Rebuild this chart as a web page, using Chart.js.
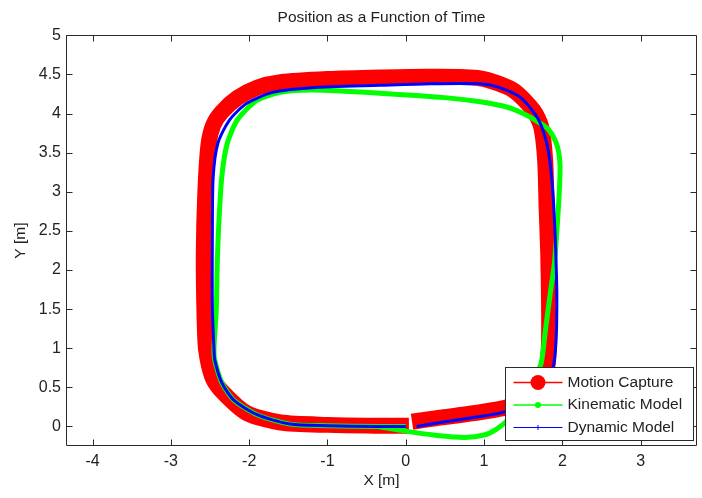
<!DOCTYPE html>
<html>
<head>
<meta charset="utf-8">
<style>
html,body{margin:0;padding:0;background:#fff;}
#wrap{width:702px;height:498px;}
</style>
<script src="https://cdn.jsdelivr.net/npm/chart.js@4.4.1/dist/chart.umd.min.js"></script>
</head>
<body>
<div id="wrap"><canvas id="c" width="702" height="498"></canvas></div>
<script>
// ---- tick values / labels ----
const xTicks = [-4, -3, -2, -1, 0, 1, 2, 3];
const xTickLabels = ['-4', '-3', '-2', '-1', '0', '1', '2', '3'];
const yTicks = [0, 0.5, 1, 1.5, 2, 2.5, 3, 3.5, 4, 4.5, 5];
const yTickLabels = ['0', '0.5', '1', '1.5', '2', '2.5', '3', '3.5', '4', '4.5', '5'];
const legendLabels = ['Motion Capture', 'Kinematic Model', 'Dynamic Model'];

// ---- Motion Capture (red) ----
const mocapX = [0.08, 0.35, 0.8, 1.27, 1.55, 1.72, 1.81, 1.83, 1.83, 1.82, 1.80, 1.78, 1.73, 1.63, 1.37, 0.95, 0.3, -0.33, -1.0, -1.6, -1.9, -2.15, -2.35, -2.46, -2.52, -2.56, -2.58, -2.57, -2.55, -2.47, -2.33, -2.03, -1.6, -1.0, -0.4, 0.04];
const mocapY = [0.06, 0.10, 0.16, 0.24, 0.34, 0.52, 0.78, 1.1, 1.6, 2.2, 2.77, 3.41, 3.83, 4.04, 4.3, 4.45, 4.47, 4.46, 4.44, 4.40, 4.33, 4.2, 4.02, 3.85, 3.6, 3.0, 2.2, 1.4, 0.98, 0.63, 0.43, 0.17, 0.05, 0.02, 0.01, 0.01];

// ---- Kinematic Model (green) ----
const kinX = [-0.35, 0.0, 0.4, 0.75, 1.0, 1.15, 1.3, 1.5, 1.63, 1.73, 1.78, 1.84, 1.9, 1.93, 1.96, 1.97, 1.93, 1.82, 1.68, 1.5, 1.3, 0.95, 0.53, -0.33, -1.19, -1.6, -1.9, -2.15, -2.28, -2.35, -2.39, -2.41, -2.42, -2.45, -2.44, -2.35, -2.2, -1.9, -1.48, -1.0, -0.35, 0.0];
const kinY = [0.0, -0.06, -0.115, -0.14, -0.11, -0.04, 0.08, 0.35, 0.6, 0.81, 1.2, 1.66, 2.1, 2.5, 2.98, 3.35, 3.6, 3.8, 3.9, 4.0, 4.08, 4.15, 4.2, 4.26, 4.3, 4.27, 4.17, 3.92, 3.62, 3.19, 2.55, 2.0, 1.5, 1.0, 0.85, 0.56, 0.34, 0.15, 0.03, 0.01, 0.0, 0.0];

// ---- Dynamic Model (blue) ----
const dynX = [0.14, 0.5, 0.9, 1.2, 1.5, 1.75, 1.88, 1.92, 1.93, 1.92, 1.91, 1.88, 1.84, 1.78, 1.68, 1.46, 1.17, 0.95, 0.31, -0.33, -1.19, -1.7, -2.03, -2.25, -2.4, -2.46, -2.47, -2.47, -2.45, -2.44, -2.35, -2.2, -1.9, -1.48, -1.0, -0.35, 0.0];
const dynY = [0.0, 0.06, 0.12, 0.17, 0.28, 0.48, 0.75, 1.1, 1.66, 2.1, 2.4, 2.98, 3.4, 3.7, 3.95, 4.21, 4.34, 4.38, 4.38, 4.36, 4.33, 4.27, 4.13, 3.92, 3.62, 3.19, 2.5, 1.5, 1.0, 0.85, 0.56, 0.34, 0.15, 0.03, 0.01, 0.0, 0.0];

const toPts = (xs, ys) => xs.map((x, i) => ({x: x, y: ys[i]}));

const FONT = '"Liberation Sans", Arial, sans-serif';
const TXT = '#222222';
const AXC = '#2a2a2a';

const framePlugin = {
  id: 'frame',
  afterDraw(chart) {
    const {ctx, chartArea: a, scales: {x, y}} = chart;
    ctx.save();
    ctx.strokeStyle = AXC;
    ctx.lineWidth = 1;
    const L = Math.round(a.left) + 0.5, R = Math.round(a.right) - 0.5;
    const T = Math.round(a.top) + 0.5, B = Math.round(a.bottom) - 0.5;
    ctx.beginPath();
    ctx.rect(L, T, R - L, B - T);
    ctx.stroke();
    const tl = 6;
    ctx.beginPath();
    x.ticks.forEach(t => {
      const p = Math.round(x.getPixelForValue(t.value)) + 0.5;
      ctx.moveTo(p, B); ctx.lineTo(p, B - tl);
      ctx.moveTo(p, T); ctx.lineTo(p, T + tl);
    });
    y.ticks.forEach(t => {
      const p = Math.round(y.getPixelForValue(t.value)) + 0.5;
      ctx.moveTo(L, p); ctx.lineTo(L + tl, p);
      ctx.moveTo(R, p); ctx.lineTo(R - tl, p);
    });
    ctx.stroke();

    // legend box
    const bw = 188, bh = 73;
    const bx = Math.round(a.right) - 4 - bw + 0.5;
    const by = Math.round(a.bottom) - 6 - bh + 0.5;
    ctx.fillStyle = '#ffffff';
    ctx.fillRect(bx, by, bw, bh);
    ctx.strokeStyle = AXC;
    ctx.strokeRect(bx, by, bw, bh);
    const rows = [by + 15, by + 37.5, by + 60];
    const lx0 = bx + 8, lx1 = bx + 57, mx = bx + 32.5;
    const ds = chart.data.datasets;
    ctx.font = '15.5px ' + FONT;
    ctx.textBaseline = 'middle';
    ctx.textAlign = 'left';
    rows.forEach((ry, i) => {
      const col = ds[i].borderColor;
      ctx.strokeStyle = col;
      ctx.fillStyle = col;
      ctx.lineWidth = i === 2 ? 1 : 1.5;
      ctx.beginPath();
      ctx.moveTo(lx0, ry); ctx.lineTo(lx1, ry);
      ctx.stroke();
      if (i === 0) {
        ctx.beginPath(); ctx.arc(mx, ry, 7.5, 0, Math.PI * 2); ctx.fill();
      } else if (i === 1) {
        ctx.beginPath(); ctx.arc(mx, ry, 3, 0, Math.PI * 2); ctx.fill();
      } else {
        ctx.beginPath(); ctx.moveTo(mx, ry - 2.5); ctx.lineTo(mx, ry + 2.5); ctx.stroke();
      }
      ctx.fillStyle = TXT;
      ctx.fillText(legendLabels[i], bx + 62, ry);
    });
    ctx.restore();
  }
};

new Chart(document.getElementById('c'), {
  type: 'scatter',
  data: {
    datasets: [
      {label: legendLabels[0], data: toPts(mocapX, mocapY), borderColor: '#ff0000', backgroundColor: '#ff0000',
       borderWidth: 16, showLine: true, pointRadius: 0, tension: 0.25, borderJoinStyle: 'round', borderCapStyle: 'butt', order: 3},
      {label: legendLabels[1], data: toPts(kinX, kinY), borderColor: '#00ff00', backgroundColor: '#00ff00',
       borderWidth: 5, showLine: true, pointRadius: 0, tension: 0.25, borderJoinStyle: 'round', order: 2},
      {label: legendLabels[2], data: toPts(dynX, dynY), borderColor: '#0000ff', backgroundColor: '#0000ff',
       borderWidth: 3, showLine: true, pointRadius: 0, tension: 0.25, borderJoinStyle: 'round', order: 1}
    ]
  },
  options: {
    responsive: false,
    devicePixelRatio: 1,
    animation: false,
    events: [],
    layout: {padding: {top: 0, right: 5, bottom: 0, left: 0}},
    plugins: {
      legend: {display: false},
      tooltip: {enabled: false},
      title: {display: true, fullSize: false, text: 'Position as a Function of Time', color: TXT,
              font: {family: FONT, size: 15.5, weight: 'normal'}, padding: {top: 8.5, bottom: 8.2}}
    },
    scales: {
      x: {
        type: 'linear', min: -4.34, max: 3.72,
        afterBuildTicks: s => { s.ticks = xTicks.map(v => ({value: v})); },
        afterFit: s => { s.height = 52; },
        ticks: {callback: (v, i) => xTickLabels[i], color: TXT, font: {family: FONT, size: 16}, padding: 6, maxRotation: 0, autoSkip: false},
        grid: {display: false, drawTicks: false},
        border: {display: false},
        title: {display: true, text: 'X [m]', color: TXT, font: {family: FONT, size: 15.5}, padding: {top: 0, bottom: 8.3}}
      },
      y: {
        type: 'linear', min: -0.25, max: 5,
        afterBuildTicks: s => { s.ticks = yTicks.map(v => ({value: v})); },
        afterFit: s => { s.width = 66; },
        ticks: {callback: (v, i) => yTickLabels[i], color: TXT, font: {family: FONT, size: 16}, padding: 5, autoSkip: false},
        grid: {display: false, drawTicks: false},
        border: {display: false},
        title: {display: true, text: 'Y [m]', color: TXT, font: {family: FONT, size: 15.5}, padding: {top: 11.3, bottom: 0}}
      }
    }
  },
  plugins: [framePlugin]
});
</script>
</body>
</html>
